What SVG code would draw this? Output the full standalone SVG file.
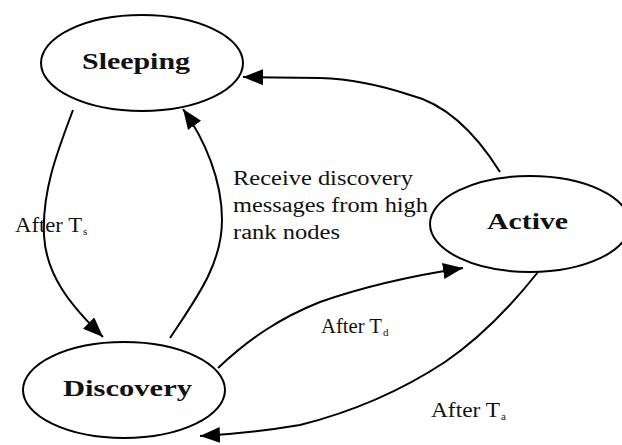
<svg xmlns="http://www.w3.org/2000/svg" width="622" height="445" viewBox="0 0 622 445">
<style>
.node{fill:#fff;stroke:#000;stroke-width:2}
.nl{font-family:"Liberation Serif","Times New Roman",serif;font-weight:bold;font-size:24px;fill:#111}
.el{font-family:"Liberation Serif","Times New Roman",serif;font-size:20px;fill:#111}
.sub{font-family:"Liberation Serif","Times New Roman",serif;font-size:11px;fill:#111}
.edge{fill:none;stroke:#000;stroke-width:2}
</style>
<defs>
<marker id="arr" markerUnits="userSpaceOnUse" markerWidth="22" markerHeight="18" refX="20" refY="8" orient="auto">
<path d="M0,0 L20,8 L0,16 z" fill="#000"/>
</marker>
</defs>
<rect width="622" height="445" fill="#fff"/>
<g id="connectors">
<path class="edge" marker-end="url(#arr)" d="M500,172 C480,140 450,105 410,95 C380,85 350,79 320,78 L243,77"/>
<path class="edge" marker-end="url(#arr)" d="M73,110 C58,150 42,190 44,235 C46,275 70,305 103,337"/>
<path class="edge" marker-end="url(#arr)" d="M170,338 C195,300 222,265 222,220 C222,180 205,140 183,109"/>
<path class="edge" marker-end="url(#arr)" d="M218,368 C250,338 280,318 320,302 C360,288 410,276 463,268"/>
<path class="edge" marker-end="url(#arr)" d="M538,272 C500,320 470,345 445,362 C410,385 360,410 300,425 C270,430 240,434 200,436"/>
</g>
<g id="sleeping">
<ellipse class="node" cx="142" cy="63" rx="101" ry="48"/>
<text class="nl" x="82" y="69" textLength="108" lengthAdjust="spacingAndGlyphs">Sleeping</text>
</g>
<g id="active">
<ellipse class="node" cx="530" cy="224" rx="100" ry="48"/>
<text class="nl" x="487" y="229" textLength="81" lengthAdjust="spacingAndGlyphs">Active</text>
</g>
<g id="discovery">
<ellipse class="node" cx="124" cy="390" rx="101" ry="48"/>
<text class="nl" x="63" y="396" textLength="129" lengthAdjust="spacingAndGlyphs">Discovery</text>
</g>
<g id="labels">
<text class="el" x="233" y="185" textLength="180" lengthAdjust="spacingAndGlyphs">Receive discovery</text>
<text class="el" x="233" y="212" textLength="195" lengthAdjust="spacingAndGlyphs">messages from high</text>
<text class="el" x="233" y="239" textLength="107" lengthAdjust="spacingAndGlyphs">rank nodes</text>
<text class="el" x="15" y="232" textLength="67" lengthAdjust="spacingAndGlyphs">After T</text>
<text class="sub" x="83" y="235">s</text>
<text class="el" x="321" y="333" textLength="61" lengthAdjust="spacingAndGlyphs">After T</text>
<text class="sub" x="383" y="336">d</text>
<text class="el" x="431" y="417" textLength="69" lengthAdjust="spacingAndGlyphs">After T</text>
<text class="sub" x="501" y="420">a</text>
</g>
</svg>
